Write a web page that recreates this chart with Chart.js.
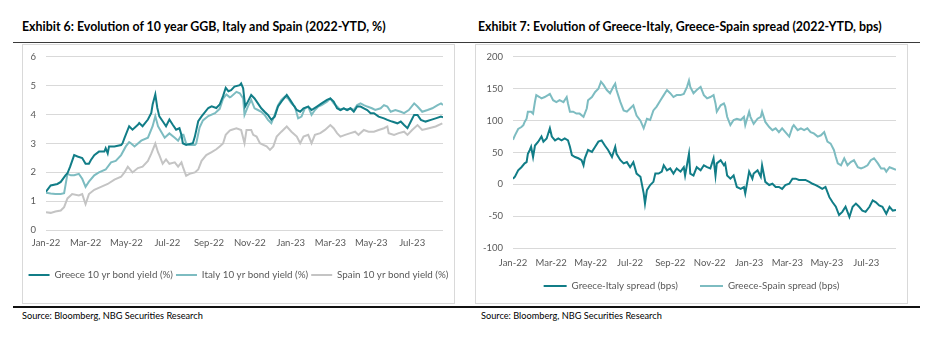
<!DOCTYPE html>
<html>
<head>
<meta charset="utf-8">
<script src="https://cdn.jsdelivr.net/npm/chart.js@4.4.1/dist/chart.umd.min.js"></script>
<style>
  body { margin: 0; width: 938px; height: 347px; background: #fff; position: relative; font-family: Lato, sans-serif; }
  .title { position: absolute; top: 19px; font-weight: bold; font-size: 12.4px; color: #000; white-space: nowrap; }
  .rule { position: absolute; left: 13px; width: 907px; }
  .box { position: absolute; top: 44px; width: 433px; height: 260px; box-sizing: border-box; border: 1px solid #d9d9d9; }
  .box canvas { position: absolute; left: -1px; top: -1px; }
  .source { position: absolute; top: 310px; font-size: 9.2px; color: #000; white-space: nowrap; }
</style>
</head>
<body>
<div class="title" style="left:22px">Exhibit 6: Evolution of 10 year GGB, Italy and Spain (2022-YTD, %)</div>
<div class="title" style="left:478px">Exhibit 7: Evolution of Greece-Italy, Greece-Spain spread (2022-YTD, bps)</div>
<div class="rule" style="top:42px;height:1px;background:#3a3a3a"></div>
<div class="box" style="left:22px"><canvas id="yields" width="433" height="260"></canvas></div>
<div class="box" style="left:475px"><canvas id="spreads" width="433" height="260"></canvas></div>
<div class="rule" style="top:306px;height:2px;background:#111"></div>
<div class="source" style="left:22px">Source: Bloomberg, NBG Securities Research</div>
<div class="source" style="left:481px">Source: Bloomberg, NBG Securities Research</div>

<script>
// x axis is days since 1 Jan 2022
const tickLabels = ['Jan-22', 'Mar-22', 'May-22', 'Jul-22', 'Sep-22', 'Nov-22', 'Jan-23', 'Mar-23', 'May-23', 'Jul-23'];
const tickDays = [0, 59, 120, 181, 243, 304, 365, 424, 485, 546];
const lastDay = 592;

// 10y Greek yield, %
const greeceDays = [
  0, 7, 17, 22, 29, 32, 36, 42, 47, 54, 59, 64, 67, 72, 79, 87, 89, 92, 94, 102,
  112, 114, 117, 124, 129, 137, 139, 144, 152, 157, 159, 163, 166, 169, 174, 179, 184, 189, 194, 199,
  202, 204, 209, 219, 222, 227, 232, 242, 247, 254, 259, 264, 268, 272, 276, 281, 289, 291, 294, 297,
  301, 306, 311, 316, 321, 326, 331, 336, 341, 346, 351, 359, 364, 369, 374, 379, 384, 391, 396, 404,
  411, 419, 424, 429, 434, 439, 444, 449, 454, 459, 464, 469, 474, 479, 484, 489, 496, 504, 509, 516,
  524, 529, 534, 539, 544, 549, 554, 559, 566, 574, 581, 589, 592
];
const greeceValues = [
  1.33, 1.55, 1.6, 1.67, 1.9, 1.97, 2.2, 2.6, 2.55, 2.5, 2.3, 2.3, 2.43, 2.6, 2.72, 2.72, 2.84, 2.66, 2.9, 2.9,
  2.95, 3.0, 3.19, 3.6, 3.48, 3.65, 3.71, 3.6, 3.83, 4.06, 4.35, 4.7, 4.23, 3.94, 3.77, 3.6, 3.83, 3.65, 3.48, 3.53,
  3.3, 3.01, 2.95, 3.01, 3.24, 3.77, 3.94, 4.23, 4.29, 4.23, 4.35, 4.64, 4.93, 4.81, 4.85, 4.97, 5.02, 5.08, 4.91, 4.28,
  4.45, 4.68, 4.56, 4.39, 4.22, 4.1, 3.99, 3.82, 3.93, 4.28, 4.45, 4.68, 4.51, 4.33, 4.16, 4.1, 4.22, 4.28, 4.16, 4.28,
  4.39, 4.51, 4.56, 4.45, 4.22, 4.16, 4.22, 4.16, 4.22, 4.1, 4.28, 4.28, 4.22, 4.16, 4.05, 4.05, 3.93, 3.87, 3.82, 3.76,
  3.7, 3.76, 3.64, 3.53, 3.76, 3.99, 3.99, 3.82, 3.76, 3.82, 3.87, 3.93, 3.91
];

// 10y Italian yield, %
const italyDays = [
  0, 7, 14, 22, 27, 32, 37, 42, 49, 54, 59, 64, 72, 79, 89, 97, 104, 112, 119, 124,
  127, 132, 142, 152, 159, 163, 167, 172, 177, 184, 192, 197, 202, 205, 209, 214, 222, 224, 229, 234,
  242, 252, 259, 264, 269, 274, 276, 284, 289, 294, 296, 301, 306, 311, 316, 321, 326, 331, 336, 341,
  346, 351, 356, 361, 366, 371, 376, 381, 386, 391, 396, 401, 406, 411, 419, 424, 429, 434, 439, 444,
  449, 454, 459, 464, 469, 474, 479, 486, 491, 499, 504, 509, 514, 521, 529, 534, 541, 549, 554, 561,
  569, 576, 584, 589, 592
];
const italyValues = [
  1.3, 1.27, 1.25, 1.25, 1.28, 1.95, 1.9, 1.9, 1.95, 1.78, 1.5, 1.68, 1.9, 2.0, 2.1, 2.35, 2.4, 2.6, 2.9, 3.05,
  3.0, 2.9, 3.1, 3.2, 3.6, 3.95, 3.6, 3.4, 3.2, 3.35, 3.2, 3.1, 3.3, 3.3, 3.0, 2.95, 2.95, 3.0, 3.55, 3.8,
  3.95, 4.05, 4.2, 4.55, 4.7, 4.6, 4.62, 4.79, 4.74, 4.56, 3.99, 4.28, 4.51, 4.22, 4.16, 4.1, 3.99, 3.82, 3.7, 3.99,
  4.33, 4.51, 4.62, 4.56, 4.39, 4.28, 3.87, 3.93, 4.22, 4.28, 3.99, 4.16, 4.28, 4.33, 4.45, 4.56, 4.39, 4.28, 4.16, 4.22,
  4.16, 4.22, 4.16, 4.33, 4.39, 4.33, 4.28, 4.22, 4.16, 4.22, 4.33, 4.28, 4.1, 4.16, 4.1, 4.05, 4.16, 4.39, 4.28, 4.1,
  4.16, 4.22, 4.33, 4.39, 4.33
];

// 10y Spanish yield, %
const spainDays = [
  0, 7, 14, 22, 27, 32, 39, 49, 54, 59, 64, 72, 82, 92, 102, 112, 117, 122, 129, 137,
  144, 152, 157, 163, 167, 169, 174, 179, 184, 192, 197, 202, 204, 209, 214, 222, 227, 232, 239, 247,
  254, 259, 264, 268, 274, 276, 284, 291, 296, 299, 306, 309, 314, 319, 324, 329, 334, 339, 344, 351,
  359, 366, 374, 379, 384, 391, 396, 401, 409, 416, 424, 429, 434, 439, 446, 454, 461, 466, 474, 481,
  489, 496, 504, 509, 511, 519, 526, 534, 539, 546, 554, 561, 571, 581, 591
];
const spainValues = [
  0.62, 0.6, 0.65, 0.68, 0.8, 1.1, 1.25, 1.2, 1.25, 0.9, 1.25, 1.4, 1.5, 1.6, 1.75, 1.85, 2.0, 2.2, 2.0, 2.15,
  2.2, 2.4, 2.65, 3.0, 2.7, 2.6, 2.3, 2.45, 2.3, 2.35, 2.2, 2.35, 2.2, 1.88, 1.95, 2.0, 2.1, 2.4, 2.6, 2.7,
  2.8, 2.9, 3.0, 3.3, 3.45, 3.47, 3.53, 3.47, 3.01, 3.47, 3.47, 3.3, 3.24, 3.01, 2.95, 2.9, 2.78, 2.9, 3.24, 3.41,
  3.59, 3.41, 3.24, 3.01, 3.24, 3.3, 3.01, 3.3, 3.36, 3.47, 3.64, 3.53, 3.36, 3.24, 3.3, 3.36, 3.41, 3.3, 3.47, 3.41,
  3.41, 3.47, 3.53, 3.59, 3.36, 3.3, 3.36, 3.41, 3.3, 3.47, 3.64, 3.47, 3.53, 3.59, 3.7
];

// Greece-Italy spread, bps
const giDays = [
  0, 3, 8, 13, 18, 21, 23, 26, 28, 31, 34, 39, 44, 47, 52, 57, 60, 65, 70, 75,
  80, 85, 88, 91, 96, 101, 106, 109, 111, 116, 122, 127, 132, 137, 142, 147, 153, 158, 160, 166,
  171, 176, 181, 186, 191, 197, 202, 204, 207, 212, 217, 220, 225, 230, 233, 238, 243, 248, 253, 259,
  264, 266, 272, 274, 279, 284, 290, 295, 300, 305, 310, 313, 315, 321, 326, 328, 331, 336, 341, 346,
  352, 357, 359, 365, 370, 372, 378, 383, 385, 390, 396, 401, 406, 411, 416, 421, 427, 432, 437, 442,
  447, 452, 458, 463, 468, 473, 478, 483, 489, 494, 499, 504, 509, 514, 520, 525, 530, 535, 540, 545,
  551, 556, 561, 566, 571, 577, 582, 587, 592
];
const giValues = [
  9, 12, 22, 27, 33, 35, 48, 54, 59, 43, 61, 67, 75, 67, 72, 88, 75, 69, 72, 69,
  72, 69, 59, 46, 43, 41, 38, 30, 41, 54, 51, 59, 67, 69, 61, 54, 43, 59, 48, 38,
  33, 35, 27, 35, 17, 12, -14, -30, -9, -1, 4, 17, 17, 20, 30, 22, 25, 17, 25, 20,
  27, 14, 48, 17, 14, 27, 22, 30, 27, 25, 41, 14, 33, 38, 30, 33, 14, 9, 14, -4,
  -7, -4, -14, 20, 9, 17, 22, 12, 30, 4, -1, 1, -4, -4, -7, -1, 1, 9, 9, 7,
  7, 7, 4, 1, -1, -4, -7, -4, -20, -28, -35, -48, -43, -35, -51, -35, -30, -35, -41, -43,
  -35, -25, -28, -33, -35, -46, -35, -41, -40
];

// Greece-Spain spread, bps
const gsDays = [
  0, 3, 8, 13, 16, 18, 21, 23, 28, 31, 34, 36, 41, 44, 49, 54, 57, 62, 67, 72,
  78, 83, 85, 88, 93, 98, 103, 109, 114, 116, 122, 127, 132, 136, 140, 145, 150, 155, 158, 160,
  166, 171, 176, 181, 186, 191, 197, 202, 207, 212, 217, 222, 228, 233, 238, 243, 248, 253, 259, 264,
  269, 272, 274, 279, 284, 290, 295, 300, 305, 310, 313, 315, 321, 326, 328, 331, 336, 341, 346, 352,
  357, 359, 365, 367, 372, 378, 383, 385, 390, 396, 401, 406, 411, 416, 421, 427, 432, 434, 440, 445,
  450, 455, 460, 465, 471, 476, 481, 486, 491, 496, 499, 502, 507, 512, 517, 522, 527, 533, 538, 543,
  548, 553, 558, 564, 569, 574, 577, 582, 587, 592
];
const gsValues = [
  70, 77, 87, 90, 93, 98, 103, 114, 114, 111, 130, 140, 137, 135, 137, 140, 142, 132, 129, 132,
  129, 137, 127, 114, 114, 111, 111, 106, 119, 132, 137, 145, 150, 161, 156, 148, 143, 153, 158, 148,
  129, 116, 114, 119, 124, 108, 100, 88, 103, 101, 116, 122, 132, 140, 148, 143, 137, 140, 140, 142,
  153, 163, 153, 143, 148, 153, 140, 135, 137, 140, 127, 114, 124, 127, 122, 106, 93, 101, 103, 101,
  106, 93, 114, 106, 95, 103, 106, 114, 98, 90, 85, 88, 82, 88, 82, 75, 90, 93, 85, 88,
  85, 88, 82, 80, 75, 77, 82, 67, 64, 54, 43, 33, 30, 41, 30, 35, 38, 27, 25, 27,
  30, 38, 41, 33, 25, 25, 20, 27, 25, 23
];

const darkTeal = '#117d87';
const lightTeal = '#7dbcc1';
const grey = '#c4c4c4';
const textGrey = '#595959';

const pair = (days, values) => values.map((v, i) => ({ x: days[i], y: v }));

function series(label, points, color) {
  return {
    label: label,
    data: points,
    borderColor: color,
    backgroundColor: color,
    borderWidth: 2,
    pointRadius: 0,
    tension: 0
  };
}

function buildChart(id, datasets, y, layout) {
  return new Chart(document.getElementById(id), {
    type: 'line',
    data: { datasets: datasets },
    options: {
      responsive: false,
      animation: false,
      devicePixelRatio: 1,
      layout: { padding: layout.padding },
      scales: {
        x: {
          type: 'linear',
          min: 0,
          max: lastDay,
          afterBuildTicks: axis => { axis.ticks = tickDays.map(v => ({ value: v })); },
          afterFit: axis => { axis.height = layout.xHeight; },
          grid: { display: false, drawTicks: false },
          border: { display: false },
          ticks: {
            autoSkip: false,
            maxRotation: 0,
            padding: layout.xPad,
            color: textGrey,
            font: { family: 'Lato', size: 9.5 },
            callback: v => tickLabels[tickDays.indexOf(v)]
          }
        },
        y: {
          min: y.min,
          max: y.max,
          afterFit: axis => { axis.width = layout.yWidth; },
          grid: { color: '#d9d9d9', lineWidth: 1, drawTicks: false },
          border: { display: false },
          ticks: {
            stepSize: y.step,
            padding: 10,
            color: textGrey,
            // small line height keeps the top label from pushing the plot down
            font: { family: 'Lato', size: 9.5, lineHeight: 0.6 }
          }
        },
        // empty right margin, kept as an axis so the legend can use the full width
        gap: {
          position: 'right',
          grid: { display: false, drawTicks: false },
          border: { display: false },
          ticks: { display: false },
          afterFit: axis => { axis.width = 12; }
        }
      },
      plugins: {
        tooltip: { enabled: false },
        legend: {
          position: 'bottom',
          labels: {
            usePointStyle: true,
            pointStyle: 'line',
            pointStyleWidth: layout.boxWidth,
            boxWidth: layout.boxWidth,
            padding: layout.legendPad,
            color: textGrey,
            font: { family: 'Lato', size: 9.8 }
          }
        }
      }
    }
  });
}

buildChart('yields', [
  series('Greece 10 yr bond yield (%)', pair(greeceDays, greeceValues), darkTeal),
  series('Italy 10 yr bond yield (%)', pair(italyDays, italyValues), lightTeal),
  series('Spain 10 yr bond yield (%)', pair(spainDays, spainValues), grey)
], { min: 0, max: 6, step: 1 }, {
  padding: { left: 0, right: 0, top: 12, bottom: 14 },
  yWidth: 24, xHeight: 37, xPad: 7, legendPad: 3, boxWidth: 21
});

// the trailing no-break spaces widen the gap before the second legend entry
buildChart('spreads', [
  series('Greece-Italy spread (bps)\u00a0\u00a0\u00a0\u00a0', pair(giDays, giValues), darkTeal),
  series('Greece-Spain spread (bps)', pair(gsDays, gsValues), lightTeal)
], { min: -100, max: 200, step: 50 }, {
  padding: { left: 0, right: 0, top: 12, bottom: 3 },
  yWidth: 38, xHeight: 21, xPad: 9, legendPad: 12, boxWidth: 23
});
</script>
</body>
</html>
